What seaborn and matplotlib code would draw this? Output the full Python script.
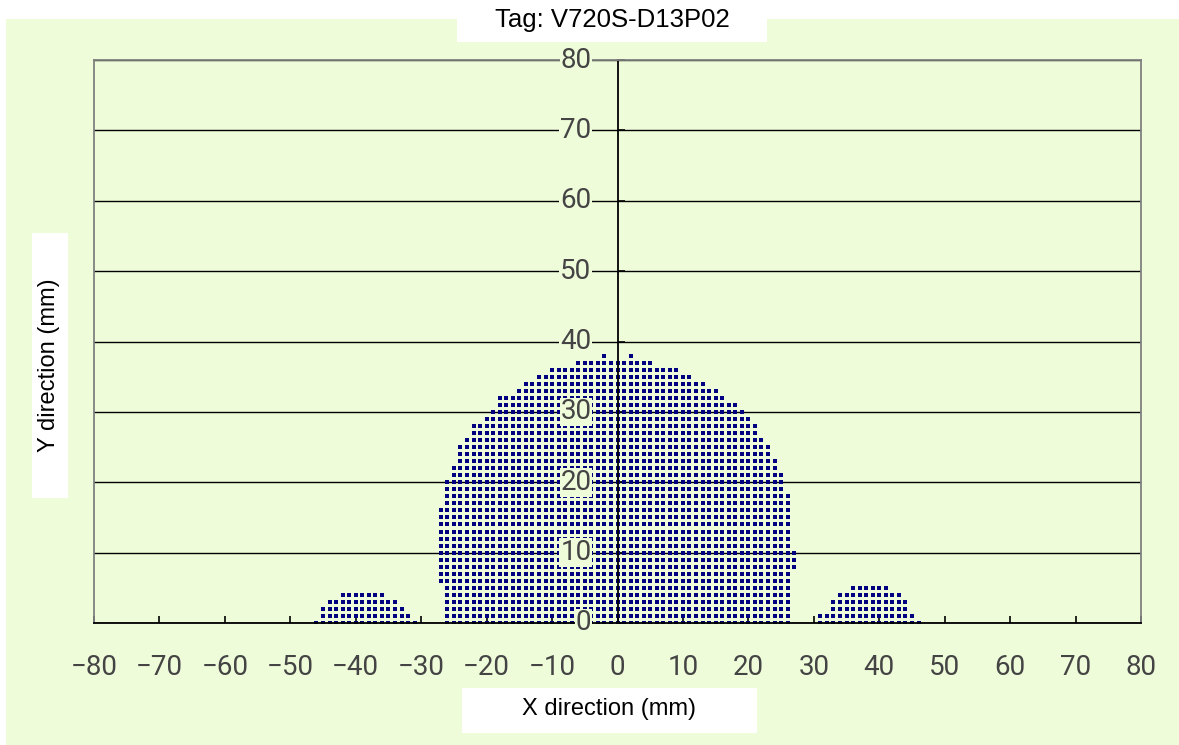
import matplotlib
matplotlib.use('Agg')
import matplotlib.pyplot as plt
import seaborn as sns
import pandas as pd
from matplotlib.patches import Rectangle
from matplotlib.transforms import offset_copy

# column positions (mm) and the lowest / highest dot row in each column
dome_x = list(range(-27, 28))
dome_top = [16, 20, 22, 25, 26, 28, 28, 29, 30, 32, 32, 32, 33, 34, 34, 35, 35, 36, 36, 36,
            36, 37, 37, 37, 37, 38, 37, 37, 37, 38, 37, 37, 37, 36, 36, 36, 36, 35, 35, 34,
            34, 33, 33, 32, 31, 31, 30, 29, 28, 26, 25, 23, 21, 18, 10]
dome_bottom = [6] + [0] * 53 + [8]

left_lobe_x = list(range(-46, -30))
left_lobe_top = [0, 2, 3, 3, 4, 4, 4, 4, 4, 4, 4, 3, 3, 2, 1, 0]

right_lobe_x = list(range(31, 47))
right_lobe_top = [1, 1, 3, 4, 4, 5, 5, 5, 5, 5, 5, 4, 4, 3, 1, 0]

x_ticks = list(range(-80, 81, 10))
y_ticks = list(range(0, 81, 10))

title = 'Tag: V720S-D13P02'
x_label = 'X direction (mm)'
y_label = 'Y direction (mm)'

# expand columns into one dot per mm
pts = []
for xs, lo, hi in [(dome_x, dome_bottom, dome_top),
                   (left_lobe_x, [0] * len(left_lobe_x), left_lobe_top),
                   (right_lobe_x, [0] * len(right_lobe_x), right_lobe_top)]:
    for x, a, b in zip(xs, lo, hi):
        for y in range(a, b + 1):
            pts.append((x, y))
df = pd.DataFrame(pts, columns=['x', 'y'])

W, H = 1179, 745
GREEN = '#EFFCDA'
fig = plt.figure(figsize=(W / 100, H / 100), dpi=100)
fig.patch.set_facecolor('white')


def box(x0, y0, x1, y1, color, z):
    r = Rectangle((x0 / W, 1 - y1 / H), (x1 - x0) / W, (y1 - y0) / H,
                  transform=fig.transFigure, facecolor=color, edgecolor='none', zorder=z)
    fig.add_artist(r)


box(6, 19, W, H, GREEN, -2)

ax = fig.add_axes([94 / W, 1 - 623 / H, 1047 / W, 563 / H])
ax.set_facecolor('none')

sns.scatterplot(data=df, x='x', y='y', marker='s', s=5, color='#000080',
                linewidth=0, ax=ax, zorder=2, legend=False)

ax.set_xlim(-80, 80)
ax.set_ylim(0, 80)
ax.set_xticks(x_ticks)
ax.set_yticks(y_ticks)
ax.set_xlabel('')
ax.set_ylabel('')

ax.grid(axis='y', color='black', lw=1.0)
ax.get_ygridlines()[-1].set_color('#808080')

ax.spines['left'].set_position(('data', 0))
ax.spines['left'].set_color('black')
ax.spines['left'].set_linewidth(1.3)
ax.spines['bottom'].set_color('black')
ax.spines['bottom'].set_linewidth(1.3)
for s in ['top', 'right']:
    ax.spines[s].set_color('#808080')
    ax.spines[s].set_linewidth(1.3)
ax.axvline(-80, color='#808080', lw=1.3, clip_on=False)

tick_font = ['Roboto', 'Liberation Sans', 'DejaVu Sans']
tick_color = '#444444'
ax.tick_params(axis='x', direction='in', length=5, width=1.2, pad=22,
               labelsize=20, labelcolor=tick_color)
ax.tick_params(axis='y', direction='in', length=5, width=1.2, labelleft=False)
for lbl in ax.get_xticklabels():
    lbl.set_fontfamily(tick_font)

# y tick labels sit just left of the x=0 axis, masking grid and dots
trans = offset_copy(ax.transData, fig=fig, x=-26, y=0, units='dots')
for v in y_ticks:
    ax.text(0, v, str(v), transform=trans, ha='right', va='center',
            fontsize=20, family=tick_font, color=tick_color, zorder=4,
            bbox=dict(facecolor=GREEN, edgecolor='none', pad=0.5), clip_on=False)

# label boxes
box(457, 0, 767, 42, 'white', 1)
box(462, 688, 757, 733, 'white', 1)
box(32, 233, 68, 498, 'white', 1)
fig.text(612 / W, 1 - 20 / H, title, ha='center', va='center', fontsize=18.5,
         family='Liberation Sans', zorder=3)
fig.text(609 / W, 1 - 709 / H, x_label, ha='center', va='center', fontsize=17,
         family='Liberation Sans', zorder=3)
fig.text(49 / W, 1 - 365 / H, y_label, ha='center', va='center', fontsize=17,
         rotation=90, family='Liberation Sans', zorder=3)

fig.savefig('out.png', dpi=100)
